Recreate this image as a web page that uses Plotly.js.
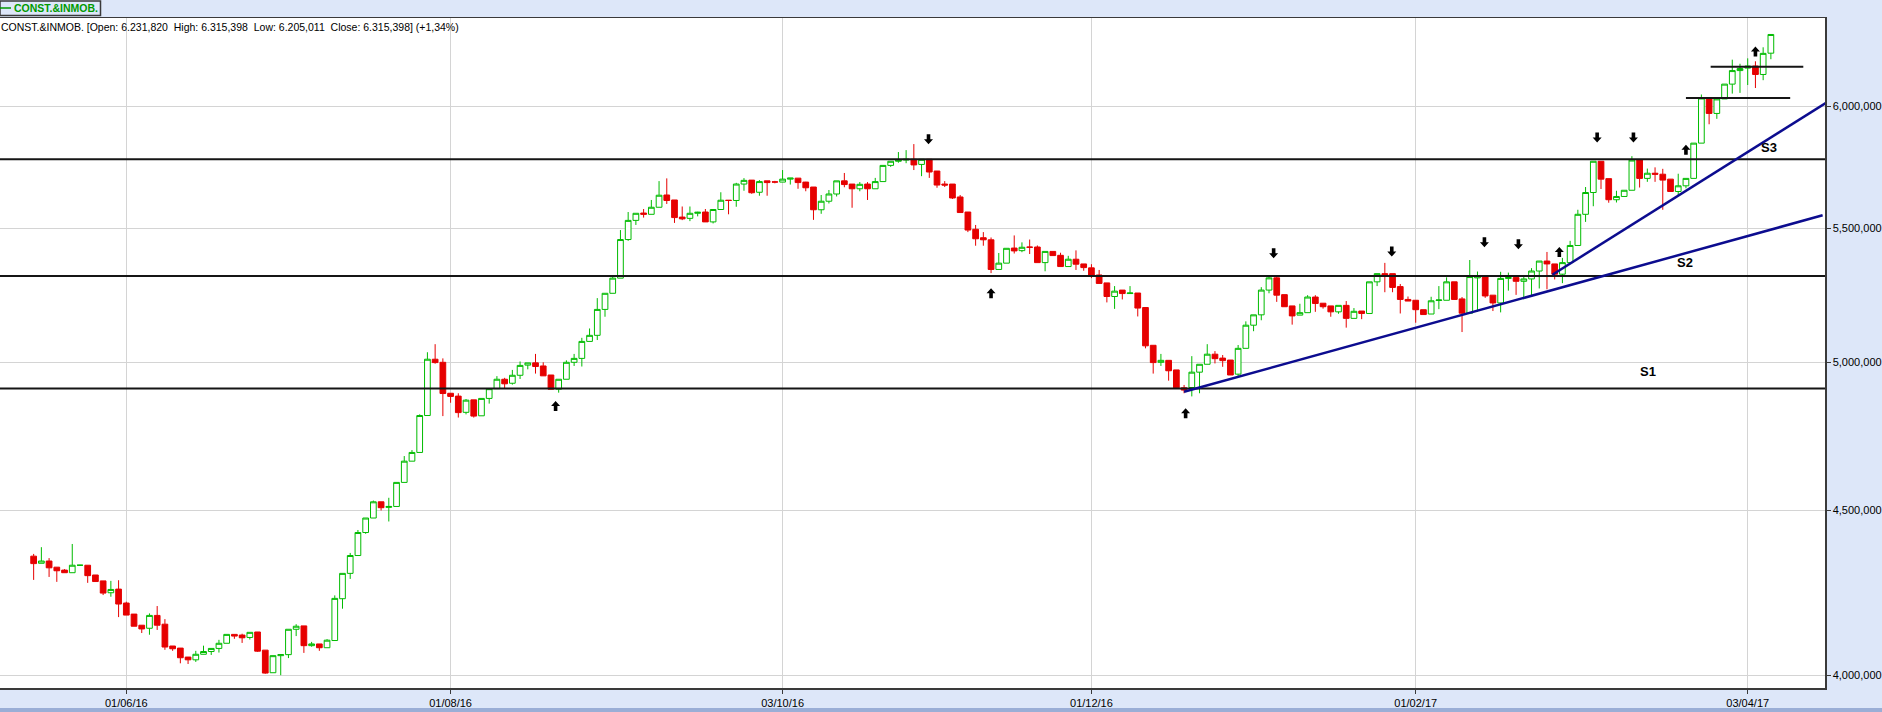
<!DOCTYPE html>
<html>
<head>
<meta charset="utf-8">
<script src="https://cdn.plot.ly/plotly-3.0.1.min.js"></script>
<style>
  html, body { margin: 0; padding: 0; background: #dde7f9; }
  #chart { width: 1882px; height: 712px; }
</style>
</head>
<body>
<div id="chart"></div>
<script>
// ---- Daily OHLC of the CONST.&INMOB. index (one entry per trading session) ----
const open = [
4355000,4333000,4340000,4321000,4312000,4304000,4327000,4327000,4297000,4279000,
4243000,4254000,4212000,4179000,4146000,4137000,4175000,4149000,4085000,4079000,
4053000,4045000,4061000,4069000,4078000,4093000,4119000,4117000,4110000,4126000,
4073000,4008000,4057000,4060000,4134000,4144000,4086000,4091000,4080000,4101000,
4225000,4302000,4357000,4429000,4475000,4527000,4509000,4512000,4590000,4660000,
4689000,4814000,5011000,5000000,4891000,4881000,4825000,4868000,4813000,4873000,
4907000,4940000,4926000,4954000,4990000,4998000,4987000,4955000,4905000,4940000,
5000000,5014000,5075000,5097000,5192000,5252000,5309000,5457000,5532000,5561000,
5556000,5584000,5633000,5613000,5545000,5540000,5560000,5565000,5526000,5575000,
5612000,5611000,5677000,5693000,5644000,5690000,5686000,5685000,5697000,5701000,
5685000,5665000,5574000,5608000,5637000,5690000,5677000,5658000,5677000,5658000,
5687000,5753000,5770000,5775000,5778000,5757000,5778000,5730000,5677000,5677000,
5625000,5565000,5497000,5464000,5456000,5342000,5366000,5424000,5414000,5428000,
5428000,5368000,5411000,5396000,5353000,5381000,5363000,5348000,5321000,5291000,
5240000,5264000,5251000,5253000,5199000,5061000,5000000,5007000,4973000,4910000,
4911000,4965000,4993000,5029000,5015000,5008000,4958000,5050000,5134000,5172000,
5264000,5310000,5247000,5205000,5171000,5180000,5238000,5215000,5205000,5183000,
5207000,5159000,5186000,5177000,5295000,5326000,5326000,5277000,5229000,5226000,
5191000,5175000,5225000,5226000,5295000,5231000,5178000,5310000,5315000,5245000,
5216000,5308000,5311000,5297000,5306000,5336000,5374000,5363000,5324000,5368000,
5434000,5556000,5643000,5770000,5699000,5614000,5627000,5652000,5775000,5700000,
5721000,5717000,5697000,5647000,5670000,5700000,5845000,6036000,5970000,6032000,
6096000,6155000,6166000,6175000,6138000,6231820
];
const high = [
4362000,4383000,4349000,4321000,4315000,4393000,4328000,4327000,4297000,4279000,
4279000,4281000,4216000,4179000,4146000,4181000,4203000,4164000,4085000,4079000,
4053000,4071000,4086000,4078000,4103000,4119000,4119000,4121000,4125000,4126000,
4073000,4057000,4060000,4134000,4149000,4144000,4097000,4091000,4105000,4235000,
4302000,4365000,4437000,4475000,4531000,4527000,4540000,4590000,4677000,4697000,
4818000,5036000,5065000,5014000,4891000,4891000,4871000,4868000,4873000,4907000,
4951000,4945000,4973000,5003000,4998000,5030000,5000000,4955000,4940000,5007000,
5030000,5088000,5122000,5234000,5252000,5315000,5494000,5565000,5560000,5577000,
5613000,5689000,5700000,5613000,5587000,5587000,5566000,5577000,5575000,5644000,
5612000,5682000,5701000,5693000,5693000,5690000,5690000,5734000,5701000,5701000,
5686000,5665000,5633000,5653000,5690000,5722000,5677000,5685000,5685000,5702000,
5753000,5770000,5808000,5816000,5841000,5778000,5778000,5730000,5689000,5677000,
5633000,5565000,5514000,5486000,5465000,5405000,5423000,5473000,5446000,5457000,
5434000,5411000,5411000,5406000,5394000,5415000,5363000,5362000,5340000,5291000,
5279000,5264000,5279000,5253000,5199000,5061000,5030000,5007000,4973000,4920000,
5022000,4993000,5065000,5040000,5026000,5008000,5062000,5148000,5172000,5275000,
5318000,5317000,5247000,5205000,5213000,5245000,5245000,5215000,5205000,5207000,
5223000,5197000,5186000,5295000,5326000,5367000,5326000,5287000,5240000,5226000,
5191000,5239000,5279000,5312000,5295000,5238000,5378000,5334000,5315000,5245000,
5333000,5330000,5311000,5321000,5347000,5374000,5409000,5363000,5386000,5452000,
5574000,5665000,5770000,5770000,5699000,5650000,5652000,5791000,5775000,5740000,
5745000,5739000,5697000,5719000,5700000,5845000,6051000,6040000,6032000,6096000,
6203000,6185000,6209000,6196000,6258000,6315398
];
const low = [
4282000,4333000,4291000,4276000,4304000,4304000,4326000,4273000,4277000,4236000,
4231000,4170000,4176000,4143000,4123000,4118000,4132000,4074000,4071000,4035000,
4033000,4039000,4061000,4059000,4066000,4093000,4106000,4094000,4104000,4068000,
4005000,4008000,4001000,4050000,4114000,4065000,4083000,4071000,4080000,4101000,
4195000,4285000,4357000,4425000,4475000,4499000,4464000,4512000,4590000,4660000,
4689000,4814000,4995000,4812000,4858000,4807000,4818000,4807000,4813000,4855000,
4907000,4908000,4921000,4941000,4975000,4960000,4952000,4905000,4893000,4940000,
4987000,4985000,5075000,5080000,5165000,5252000,5309000,5452000,5514000,5543000,
5556000,5584000,5597000,5522000,5533000,5529000,5548000,5526000,5520000,5575000,
5556000,5586000,5650000,5638000,5630000,5630000,5680000,5685000,5675000,5658000,
5648000,5534000,5558000,5599000,5627000,5664000,5582000,5648000,5613000,5658000,
5687000,5747000,5764000,5762000,5734000,5709000,5702000,5662000,5665000,5617000,
5563000,5486000,5433000,5433000,5328000,5342000,5366000,5403000,5408000,5401000,
5368000,5335000,5395000,5353000,5353000,5340000,5337000,5309000,5289000,5218000,
5194000,5229000,5251000,5166000,5050000,4960000,4987000,4935000,4910000,4891000,
4880000,4891000,4993000,4996000,4984000,4955000,4947000,5050000,5112000,5152000,
5252000,5220000,5202000,5136000,5171000,5180000,5183000,5195000,5165000,5176000,
5125000,5159000,5156000,5177000,5279000,5256000,5256000,5177000,5223000,5143000,
5173000,5175000,5193000,5226000,5229000,5109000,5178000,5183000,5235000,5186000,
5181000,5262000,5246000,5229000,5243000,5270000,5267000,5304000,5290000,5368000,
5434000,5526000,5588000,5657000,5602000,5603000,5627000,5652000,5663000,5686000,
5686000,5574000,5647000,5628000,5660000,5700000,5845000,5924000,5947000,6032000,
6055000,6058000,6092000,6079000,6113000,6205011
];
const close = [
4332000,4340000,4319000,4310000,4304000,4327000,4327000,4295000,4277000,4242000,
4253000,4209000,4176000,4143000,4135000,4175000,4146000,4082000,4077000,4051000,
4045000,4061000,4069000,4078000,4093000,4119000,4114000,4109000,4125000,4070000,
4007000,4057000,4060000,4134000,4143000,4086000,4091000,4080000,4102000,4226000,
4302000,4357000,4429000,4475000,4527000,4508000,4512000,4590000,4660000,4689000,
4814000,5011000,4999000,4890000,4880000,4824000,4867000,4812000,4873000,4907000,
4940000,4924000,4954000,4989000,4998000,4985000,4952000,4905000,4940000,5000000,
5014000,5075000,5097000,5192000,5252000,5309000,5457000,5532000,5560000,5556000,
5584000,5632000,5611000,5543000,5538000,5560000,5564000,5526000,5575000,5612000,
5611000,5677000,5692000,5642000,5687000,5683000,5685000,5697000,5701000,5683000,
5662000,5574000,5608000,5637000,5690000,5675000,5658000,5676000,5658000,5687000,
5753000,5770000,5775000,5778000,5755000,5778000,5726000,5673000,5673000,5621000,
5563000,5494000,5460000,5456000,5342000,5366000,5423000,5413000,5427000,5427000,
5368000,5411000,5395000,5353000,5381000,5362000,5349000,5319000,5289000,5240000,
5260000,5251000,5253000,5197000,5059000,4999000,5007000,4970000,4910000,4902000,
4965000,4993000,5029000,5013000,5006000,4955000,5050000,5134000,5172000,5264000,
5310000,5245000,5202000,5168000,5180000,5238000,5214000,5202000,5183000,5207000,
5159000,5185000,5177000,5295000,5326000,5321000,5274000,5229000,5223000,5191000,
5173000,5224000,5227000,5295000,5229000,5178000,5315000,5315000,5242000,5216000,
5308000,5311000,5297000,5306000,5336000,5374000,5363000,5324000,5368000,5434000,
5556000,5643000,5770000,5697000,5614000,5627000,5652000,5775000,5700000,5721000,
5717000,5693000,5647000,5670000,5700000,5845000,6036000,5970000,6032000,6096000,
6155000,6164000,6175000,6138000,6231000,6315398
];

// ---- Axis ticks (session number of the first session of each labelled month) ----
const dateTickSessions = [12, 54, 97, 137, 179, 222];
const dateTickLabels = ['01/06/16', '01/08/16', '03/10/16', '01/12/16', '01/02/17', '03/04/17'];
const priceTicks = [4000000, 4500000, 5000000, 5500000, 6000000];
const priceTickLabels = ['4,000,000', '4,500,000', '5,000,000', '5,500,000', '6,000,000'];

// ---- Drawn analysis ----
const supportLevels = [4908000, 5317000, 5778000];                 // full-width horizontals
const shortLevels = [ {from: 214.0, to: 227.5, level: 6036000},
                      {from: 217.2, to: 229.2, level: 6172000} ];
const trendLines = [ {x0: 149.0, p0: 4896000, x1: 231.7, p1: 5552000},
                     {x0: 196.7, p0: 5322000, x1: 232.2, p1: 6016000} ];
const levelLabels = [ {text: 'S1', x: 209.1, p: 4969000},
                      {text: 'S2', x: 213.9, p: 5367000},
                      {text: 'S3', x: 224.7, p: 5826000} ];
const upSignals = [ {x: 67.6, p: 4864000}, {x: 124.0, p: 5271000}, {x: 149.2, p: 4839000},
                    {x: 197.6, p: 5428000}, {x: 214.0, p: 5838000}, {x: 223.0, p: 6262000} ];
const downSignals = [ {x: 115.9, p: 5840000}, {x: 160.6, p: 5385000}, {x: 175.9, p: 5391000},
                      {x: 187.9, p: 5427000}, {x: 192.3, p: 5419000}, {x: 202.5, p: 5848000},
                      {x: 207.2, p: 5848000} ];

const seriesName = 'CONST.&INMOB.';
const lastInfo = 'CONST.&INMOB. [Open: 6.231,820\u00a0\u00a0High: 6.315,398\u00a0\u00a0Low: 6.205,011\u00a0\u00a0Close: 6.315,398] (+1,34%)';

// ---- Build ----
const FONT = 'Liberation Sans, Arial, sans-serif';
const sessions = open.map((_, i) => i);

const trace = {
  type: 'candlestick',
  x: sessions, open: open, high: high, low: low, close: close,
  increasing: {line: {color: '#00bb00', width: 1}, fillcolor: '#ffffff'},
  decreasing: {line: {color: '#e60000', width: 1}, fillcolor: '#e60000'},
  whiskerwidth: 0,
  hoverinfo: 'skip',
  showlegend: false
};

const shapes = [];
supportLevels.forEach(v => shapes.push({type: 'line', xref: 'paper', x0: 0, x1: 1, yref: 'y', y0: v, y1: v,
  line: {color: '#151515', width: 2}}));
shortLevels.forEach(s => shapes.push({type: 'line', xref: 'x', x0: s.from, x1: s.to, yref: 'y', y0: s.level, y1: s.level,
  line: {color: '#151515', width: 2}}));
trendLines.forEach(t => shapes.push({type: 'line', xref: 'x', x0: t.x0, x1: t.x1, yref: 'y', y0: t.p0, y1: t.p1,
  line: {color: '#0c0c8f', width: 2.5}}));
const upPath = 'M0,0 L-4.5,-5 L-1.8,-5 L-1.8,-10 L1.8,-10 L1.8,-5 L4.5,-5 Z';
const downPath = 'M0,0 L-4.5,5 L-1.8,5 L-1.8,10 L1.8,10 L1.8,5 L4.5,5 Z';
upSignals.forEach(s => shapes.push({type: 'path', xref: 'x', yref: 'y', xsizemode: 'pixel', ysizemode: 'pixel',
  xanchor: s.x, yanchor: s.p, path: upPath, fillcolor: '#000000', line: {width: 0}}));
downSignals.forEach(s => shapes.push({type: 'path', xref: 'x', yref: 'y', xsizemode: 'pixel', ysizemode: 'pixel',
  xanchor: s.x, yanchor: s.p, path: downPath, fillcolor: '#000000', line: {width: 0}}));

// header tab (paper coordinates: plot spans 1825 x 670 px)
const PW = 1825, PH = 670, PB = 688;
const px = v => v / PW;
const py = v => (PB - v) / PH;
shapes.push({type: 'rect', xref: 'paper', yref: 'paper', x0: px(0), x1: px(100.5), y0: py(15.5), y1: py(1),
  fillcolor: '#dde7f9', line: {color: '#3a3a3a', width: 1.5}});
shapes.push({type: 'line', xref: 'paper', yref: 'paper', x0: px(0), x1: px(11), y0: py(8), y1: py(8),
  line: {color: '#009900', width: 1.5}});
// bottom strip of the frame
shapes.push({type: 'rect', xref: 'paper', yref: 'paper', x0: -0.01, x1: 1.05, y0: py(712), y1: py(708),
  fillcolor: '#9aaed6', line: {width: 0}});

const annotations = [];
levelLabels.forEach(l => annotations.push({xref: 'x', yref: 'y', x: l.x, y: Math.log10(l.p), text: '<b>' + l.text + '</b>',
  showarrow: false, font: {family: FONT, size: 13, color: '#000'}}));
annotations.push({xref: 'paper', yref: 'paper', x: px(0), y: py(26.5), xanchor: 'left', yanchor: 'middle',
  text: lastInfo, showarrow: false, borderpad: 0, font: {family: FONT, size: 10.5, color: '#000'}});
annotations.push({xref: 'paper', yref: 'paper', x: px(12.5), y: py(8.2), xanchor: 'left', yanchor: 'middle',
  text: '<b>' + seriesName + '</b>', showarrow: false, borderpad: 0, font: {family: FONT, size: 10.5, color: '#009900'}});

const layout = {
  width: 1882, height: 712,
  paper_bgcolor: '#dde7f9', plot_bgcolor: '#ffffff',
  margin: {l: 0, r: 57, t: 18, b: 24, pad: 0},
  showlegend: false,
  boxgap: 0.14, boxgroupgap: 0.14,
  xaxis: {
    type: 'linear', range: [-4.358, 232.01],
    tickmode: 'array', tickvals: dateTickSessions, ticktext: dateTickLabels,
    showgrid: true, gridcolor: '#d4d4d4', gridwidth: 1, zeroline: false,
    showline: true, linecolor: '#3a3a3a', linewidth: 1.5, mirror: true,
    ticks: 'outside', ticklen: 4, tickcolor: '#3a3a3a',
    tickfont: {family: FONT, size: 11, color: '#000'},
    rangeslider: {visible: false}, fixedrange: true
  },
  yaxis: {
    type: 'log', side: 'right', range: [6.598201, 6.805499],
    tickmode: 'array', tickvals: priceTicks, ticktext: priceTickLabels,
    showgrid: true, gridcolor: '#d4d4d4', gridwidth: 1, zeroline: false,
    showline: true, linecolor: '#3a3a3a', linewidth: 1.5, mirror: true,
    ticks: 'outside', ticklen: 4, tickcolor: '#3a3a3a',
    tickfont: {family: FONT, size: 11, color: '#000'},
    fixedrange: true
  },
  shapes: shapes,
  annotations: annotations
};

Plotly.newPlot('chart', [trace], layout, {staticPlot: true, displayModeBar: false});
</script>
</body>
</html>
